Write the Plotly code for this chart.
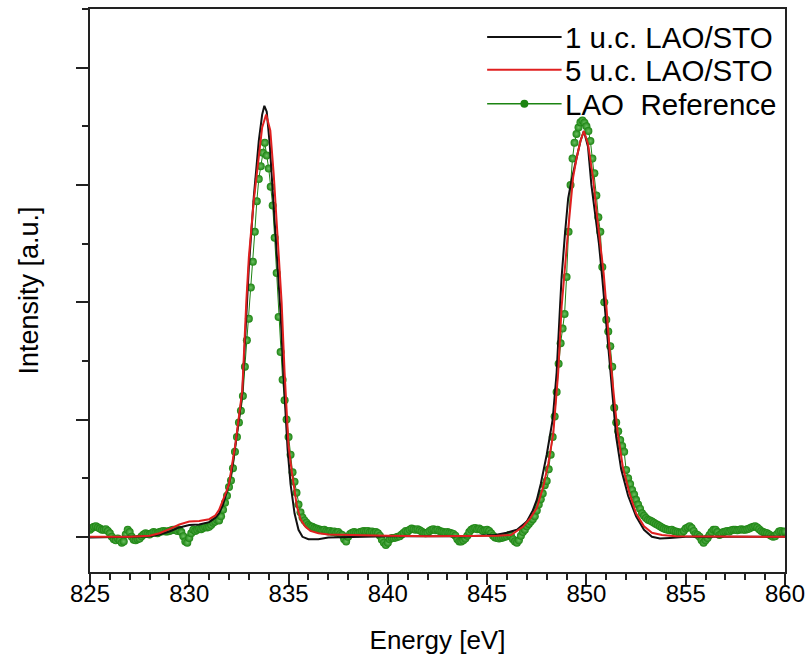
import numpy as np
import plotly.graph_objects as go

# ---------------- data ----------------
# LAO reference spectrum, sampled every 0.1 eV from 825 to 860 eV
ref_energy = np.round(np.linspace(825.0, 860.0, 351), 1)
ref_intensity = [
    0.012, 0.015, 0.017, 0.018, 0.016, 0.014, 0.012, 0.012, 0.013, 0.010,   # 825
    0.006, 0.000, -0.004, -0.006, -0.003, -0.006, -0.010, -0.008, 0.004, 0.012,  # 826
    0.008, 0.000, -0.005, -0.006, -0.004, -0.003, 0.001, 0.004, 0.006, 0.005,  # 827
    0.004, 0.006, 0.008, 0.007, 0.006, 0.008, 0.009, 0.010, 0.009, 0.009,   # 828
    0.010, 0.011, 0.012, 0.012, 0.010, 0.012, 0.008, 0.001, -0.008, -0.010,  # 829
    -0.002, 0.006, 0.012, 0.010, 0.012, 0.014, 0.013, 0.015, 0.017, 0.016,  # 830
    0.017, 0.020, 0.024, 0.026, 0.029, 0.028, 0.035, 0.046, 0.058, 0.070,   # 831
    0.085, 0.096, 0.117, 0.145, 0.170, 0.195, 0.215, 0.240, 0.290, 0.335,   # 832
    0.372, 0.425, 0.469, 0.520, 0.572, 0.610, 0.632, 0.655, 0.672, 0.650,   # 833
    0.628, 0.597, 0.565, 0.510, 0.450, 0.375, 0.315, 0.268, 0.233, 0.200,   # 834
    0.170, 0.140, 0.110, 0.094, 0.075, 0.055, 0.042, 0.033, 0.028, 0.024,   # 835
    0.020, 0.018, 0.017, 0.015, 0.014, 0.013, 0.012, 0.011, 0.012, 0.010,   # 836
    0.009, 0.010, 0.008, 0.009, 0.007, 0.008, 0.005, 0.003, -0.004, -0.008,  # 837
    0.000, 0.005, 0.007, 0.008, 0.007, 0.006, 0.008, 0.009, 0.010, 0.009,   # 838
    0.010, 0.008, 0.009, 0.007, 0.008, 0.006, 0.002, -0.005, -0.010, -0.014,  # 839
    -0.010, -0.004, -0.002, -0.002, -0.001, 0.000, 0.001, 0.004, 0.007, 0.010,  # 840
    0.009, 0.012, 0.014, 0.013, 0.012, 0.013, 0.011, 0.009, 0.007, 0.006,   # 841
    0.007, 0.010, 0.012, 0.013, 0.011, 0.012, 0.010, 0.009, 0.008, 0.007,   # 842
    0.008, 0.007, 0.006, 0.005, 0.002, -0.004, -0.008, -0.008, -0.006, -0.003,  # 843
    0.002, 0.008, 0.012, 0.014, 0.015, 0.013, 0.014, 0.012, 0.010, 0.011,   # 844
    0.012, 0.010, 0.006, 0.002, -0.001, -0.002, -0.003, -0.002, -0.001, 0.000,  # 845
    0.001, 0.003, 0.002, -0.004, -0.008, -0.010, -0.006, 0.002, 0.008, 0.012,  # 846
    0.018, 0.022, 0.026, 0.030, 0.035, 0.045, 0.055, 0.064, 0.074, 0.088,   # 847
    0.095, 0.115, 0.140, 0.170, 0.205, 0.247, 0.295, 0.330, 0.355, 0.380,   # 848
    0.443, 0.520, 0.600, 0.645, 0.672, 0.687, 0.698, 0.707, 0.710, 0.706,   # 849
    0.700, 0.692, 0.675, 0.645, 0.620, 0.582, 0.545, 0.520, 0.460, 0.400,   # 850
    0.370, 0.350, 0.325, 0.290, 0.220, 0.195, 0.180, 0.165, 0.155, 0.145,   # 851
    0.114, 0.100, 0.090, 0.080, 0.072, 0.063, 0.055, 0.048, 0.040, 0.036,   # 852
    0.032, 0.029, 0.028, 0.026, 0.024, 0.022, 0.020, 0.018, 0.016, 0.014,   # 853
    0.013, 0.012, 0.011, 0.012, 0.010, 0.009, 0.008, 0.007, 0.007, 0.010,   # 854
    0.014, 0.016, 0.018, 0.015, 0.010, 0.005, 0.003, 0.000, -0.006, -0.010,  # 855
    -0.006, -0.002, 0.003, 0.008, 0.012, 0.012, 0.008, 0.003, 0.005, 0.008,  # 856
    0.009, 0.010, 0.009, 0.011, 0.012, 0.012, 0.011, 0.012, 0.013, 0.012,   # 857
    0.012, 0.013, 0.014, 0.016, 0.017, 0.018, 0.016, 0.013, 0.010, 0.008,   # 858
    0.007, 0.006, 0.004, 0.002, 0.000, 0.001, 0.005, 0.009, 0.010, 0.008,   # 859
    0.009,                                                                  # 860
]

# 1 u.c. LAO/STO
uc1_energy = [
    825.0, 826.0, 827.0, 828.0, 828.5, 829.0, 829.5, 830.0, 830.5, 831.0,
    831.3, 831.5, 831.7, 831.9, 832.0, 832.15, 832.33, 832.5, 832.67, 832.9,
    833.0, 833.25, 833.5, 833.67, 833.78, 833.9, 834.05, 834.2, 834.35, 834.5,
    834.6, 834.75, 834.95, 835.1, 835.3, 835.5, 835.7, 836.0, 836.5, 837.0,
    838.0, 840.0, 842.0, 844.0, 845.4, 846.0, 846.5, 847.0, 847.3, 847.5,
    847.7, 848.0, 848.3, 848.5, 848.67, 848.75, 848.92, 849.08, 849.25, 849.5,
    849.7, 849.87, 850.08, 850.25, 850.42, 850.63, 850.8, 850.95, 851.1, 851.3,
    851.5, 851.75, 852.1, 852.5, 852.9, 853.3, 853.7, 854.2, 855.0, 857.0,
    860.0,
]
uc1_intensity = [
    -0.001, -0.001, 0.000, 0.001, 0.004, 0.009, 0.016, 0.020, 0.021, 0.025,
    0.032, 0.040, 0.055, 0.078, 0.090, 0.115, 0.155, 0.200, 0.245, 0.390,
    0.460, 0.580, 0.675, 0.720, 0.735, 0.725, 0.670, 0.590, 0.510, 0.430,
    0.380, 0.270, 0.150, 0.090, 0.040, 0.012, 0.000, -0.004, -0.004, -0.001,
    0.000, 0.001, 0.001, 0.001, 0.003, 0.007, 0.012, 0.026, 0.045, 0.063,
    0.090, 0.140, 0.200, 0.280, 0.392, 0.443, 0.517, 0.577, 0.608, 0.647,
    0.675, 0.692, 0.665, 0.600, 0.557, 0.500, 0.440, 0.380, 0.320, 0.240,
    0.170, 0.115, 0.070, 0.035, 0.012, 0.000, -0.003, -0.002, 0.000, 0.000,
    0.000,
]

# 5 u.c. LAO/STO
uc5_energy = [
    825.0, 826.0, 827.0, 828.0, 828.5, 829.0, 829.5, 830.0, 830.5, 831.0,
    831.3, 831.5, 831.7, 831.9, 832.0, 832.15, 832.33, 832.5, 832.67, 832.87,
    833.0, 833.25, 833.5, 833.67, 833.87, 834.08, 834.25, 834.42, 834.55, 834.65,
    834.8, 835.0, 835.17, 835.42, 835.6, 835.83, 836.1, 836.5, 837.0, 838.0,
    840.0, 842.0, 844.0, 845.5, 846.2, 846.5, 846.8, 847.17, 847.5, 847.83,
    848.08, 848.33, 848.58, 848.75, 848.88, 849.08, 849.33, 849.5, 849.7, 849.87,
    850.08, 850.33, 850.5, 850.7, 850.87, 851.0, 851.17, 851.37, 851.58, 851.83,
    852.17, 852.5, 852.9, 853.3, 853.8, 854.5, 856.0, 858.0, 860.0,
]
uc5_intensity = [
    0.000, 0.000, 0.000, 0.002, 0.006, 0.013, 0.021, 0.026, 0.027, 0.030,
    0.036, 0.046, 0.062, 0.080, 0.090, 0.120, 0.160, 0.205, 0.250, 0.400,
    0.477, 0.574, 0.647, 0.698, 0.720, 0.693, 0.619, 0.534, 0.466, 0.400,
    0.280, 0.154, 0.109, 0.052, 0.030, 0.018, 0.010, 0.006, 0.004, 0.003,
    0.002, 0.001, 0.001, 0.002, 0.003, 0.010, 0.017, 0.032, 0.049, 0.086,
    0.125, 0.176, 0.281, 0.392, 0.449, 0.523, 0.613, 0.645, 0.675, 0.692,
    0.670, 0.613, 0.557, 0.500, 0.449, 0.395, 0.318, 0.245, 0.176, 0.120,
    0.074, 0.040, 0.018, 0.007, 0.003, 0.001, 0.001, 0.001, 0.000,
]

series_names = ["1 u.c. LAO/STO", "5 u.c. LAO/STO", "LAO  Reference"]
x_ticks = [825, 830, 835, 840, 845, 850, 855, 860]

# ---------------- style ----------------
FONT = "Liberation Sans, Arial, sans-serif"
BLACK = "#111111"
RED = "#e02020"
GREEN = "#1c8412"
GREEN_HI = "#6cc062"
AXIS = "#222222"

W, H = 812, 666
M_L, M_R, M_T, M_B = 90, 22, 7, 94

fig = go.Figure()

fig.add_trace(go.Scatter(
    x=ref_energy, y=ref_intensity, mode="lines+markers",
    name=series_names[2], showlegend=False,
    line=dict(color=GREEN, width=1),
    marker=dict(size=8, color=GREEN,
                gradient=dict(type="radial", color=GREEN_HI),
                line=dict(width=0)),
))
fig.add_trace(go.Scatter(
    x=uc1_energy, y=uc1_intensity, mode="lines",
    name=series_names[0], showlegend=False,
    line=dict(color=BLACK, width=2),
))
fig.add_trace(go.Scatter(
    x=uc5_energy, y=uc5_intensity, mode="lines",
    name=series_names[1], showlegend=False,
    line=dict(color=RED, width=2),
))

# legend drawn in pixel space of the page
def px_to_paper(px, py):
    return (px - M_L) / (W - M_L - M_R), (H - M_B - py) / (H - M_T - M_B)

legend_rows = [(series_names[0], BLACK, 35), (series_names[1], RED, 68), (series_names[2], GREEN, 102)]
shapes, annotations = [], []
for label, color, py in legend_rows:
    x0, y0 = px_to_paper(490, py)
    x1, _ = px_to_paper(565, py)
    shapes.append(dict(type="line", xref="paper", yref="paper",
                       x0=x0, x1=x1, y0=y0, y1=y0,
                       line=dict(color=color, width=2 if color != GREEN else 1.5)))
    tx, ty = px_to_paper(566, py + 1)
    annotations.append(dict(xref="paper", yref="paper", x=tx, y=ty,
                            xanchor="left", yanchor="middle", showarrow=False,
                            text=label, font=dict(family=FONT, size=29.5, color="#000")))
# dot on the reference legend line
cx0, cy0 = px_to_paper(523.5, 98)
cx1, cy1 = px_to_paper(531.5, 106)
shapes.append(dict(type="circle", xref="paper", yref="paper",
                   x0=cx0, x1=cx1, y0=cy1, y1=cy0,
                   fillcolor=GREEN, line=dict(width=0)))

fig.update_layout(
    width=W, height=H,
    margin=dict(l=M_L, r=M_R, t=M_T, b=M_B),
    paper_bgcolor="white", plot_bgcolor="white",
    font=dict(family=FONT, color="#000"),
    shapes=shapes, annotations=annotations,
    showlegend=False,
)
fig.update_xaxes(
    range=[825, 860], tickvals=x_ticks, ticktext=[str(v) for v in x_ticks],
    ticks="outside", ticklen=11, tickwidth=1.5, tickcolor=AXIS,
    minor=dict(dtick=1, tick0=825, ticks="outside", ticklen=6, tickwidth=1.5, tickcolor=AXIS),
    showline=True, linewidth=2, linecolor=AXIS, mirror=True,
    showgrid=False, zeroline=False,
    ticklabelstandoff=-12,
    tickfont=dict(family=FONT, size=24, color="#000"),
    title=dict(text="Energy [eV]", font=dict(family=FONT, size=26, color="#000"), standoff=25),
)
fig.update_yaxes(
    range=[-0.06, 0.9], tick0=0, dtick=0.2, showticklabels=False,
    ticks="outside", ticklen=12, tickwidth=1.5, tickcolor=AXIS,
    minor=dict(dtick=0.1, tick0=0, ticks="outside", ticklen=6, tickwidth=1.5, tickcolor=AXIS),
    showline=True, linewidth=2, linecolor=AXIS, mirror=True,
    showgrid=False, zeroline=False,
    title=dict(text="Intensity [a.u.]", font=dict(family=FONT, size=27, color="#000"), standoff=30),
)

fig.write_html("out.html")
